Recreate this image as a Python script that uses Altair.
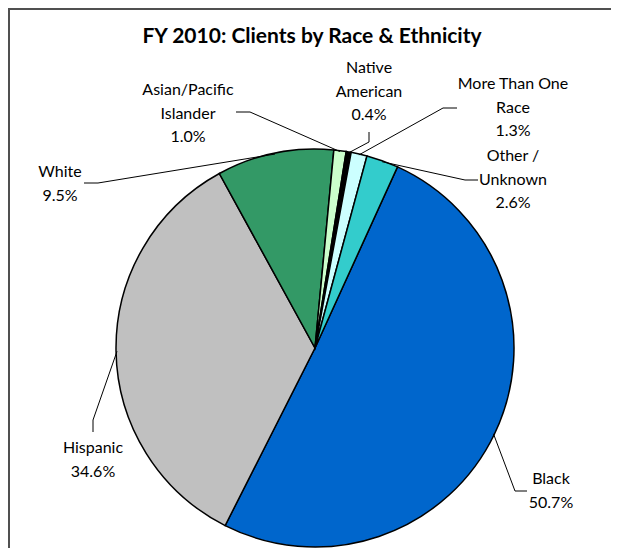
import math
import altair as alt
import pandas as pd

# ---------------- data ----------------
categories = ["Black", "Hispanic", "White", "Asian/Pacific Islander",
              "Native American", "More Than One Race", "Other / Unknown"]
values = [50.7, 34.6, 9.5, 1.0, 0.4, 1.3, 2.6]
colors = ["#0066CC", "#C0C0C0", "#339966", "#CCFFCC", "#000000", "#CCFFFF", "#33CCCC"]
label_lines = [["Black"], ["Hispanic"], ["White"], ["Asian/Pacific", "Islander"],
               ["Native", "American"], ["More Than One", "Race"], ["Other /", "Unknown"]]
title_text = "FY 2010: Clients by Race & Ethnicity"

# ---------------- layout ----------------
W, H = 603, 540
CX, CY, R = 307, 340, 199
START_DEG = 24.5
FONT = "Lato"
LINE_H = 23.5
label_pos = [(543, 471), (85, 440), (52, 164), (180, 82), (361, 60), (505, 76), (505, 148)]
leader_pts = [[(519, 483), (507, 483)], [(85, 424), (85, 412)], [(76, 175), (90, 175)],
              [(228, 104), (242, 104)], [(361, 124), (361, 134)], [(449, 100), (435, 100)],
              [(470, 172), (457, 172)]]

start = math.radians(START_DEG)
total = sum(values)

pie_df = pd.DataFrame({"cat": categories, "value": values, "order": list(range(len(values)))})

txt_rows = []
for cat, lines, v, (lx, ly) in zip(categories, label_lines, values, label_pos):
    for i, s in enumerate(lines + [f"{v:.1f}%"]):
        txt_rows.append({"cat": cat, "line": s, "x": lx, "y": ly + i * LINE_H})
txt_df = pd.DataFrame(txt_rows)

line_rows = []
cum = 0.0
for cat, v, pts in zip(categories, values, leader_pts):
    mid = start + 2 * math.pi * (cum + v / 2) / total
    cum += v
    ex, ey = CX + (R - 1) * math.sin(mid), CY - (R - 1) * math.cos(mid)
    for i, (px, py) in enumerate(pts + [(ex, ey)]):
        line_rows.append({"cat": cat, "i": i, "x": px, "y": py})
line_df = pd.DataFrame(line_rows)

pie = alt.Chart(pie_df).mark_arc(radius=R, stroke="black", strokeWidth=1.5).encode(
    theta=alt.Theta("value:Q", stack=True, scale=alt.Scale(range=[start, start + 2 * math.pi])),
    color=alt.Color("cat:N", scale=alt.Scale(domain=categories, range=colors), legend=None),
    order=alt.Order("order:Q"),
    x=alt.value(CX), y=alt.value(CY),
)

leaders = alt.Chart(line_df).mark_line(color="black", strokeWidth=1).encode(
    x=alt.X("x:Q", scale=None, axis=None),
    y=alt.Y("y:Q", scale=None, axis=None),
    detail="cat:N",
    order="i:Q",
)

labels = alt.Chart(txt_df).mark_text(font=FONT, fontSize=16, color="black",
                                     align="center", baseline="middle").encode(
    x=alt.X("x:Q", scale=None, axis=None),
    y=alt.Y("y:Q", scale=None, axis=None),
    text="line:N",
)

title = alt.Chart(pd.DataFrame({"t": [title_text]})).mark_text(
    font=FONT, fontSize=21, fontWeight="bold", color="black", align="center", baseline="middle"
).encode(x=alt.value(304), y=alt.value(29), text="t:N")

frame_top = alt.Chart(pd.DataFrame({"a": [0]})).mark_rule(color="#505050", strokeWidth=2).encode(
    x=alt.value(0), x2=alt.value(W), y=alt.value(1))
frame_left = alt.Chart(pd.DataFrame({"a": [0]})).mark_rule(color="#505050", strokeWidth=2).encode(
    y=alt.value(0), y2=alt.value(H), x=alt.value(1))

chart = alt.layer(pie, leaders, labels, title, frame_top, frame_left).properties(
    width=W, height=H, padding=0, background="white",
    autosize=alt.AutoSizeParams(type="none")
).configure_view(stroke="transparent", strokeWidth=0, strokeOpacity=0)

chart.save("out.html", embed_options={"renderer": "svg", "actions": False})
